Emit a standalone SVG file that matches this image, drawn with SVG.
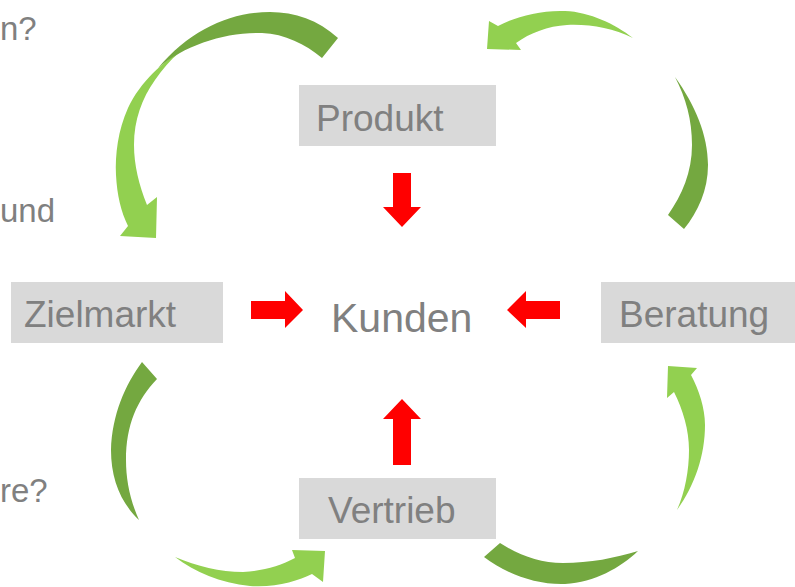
<svg xmlns="http://www.w3.org/2000/svg" width="795" height="587" viewBox="0 0 795 587">
<style>
.box{fill:#D9D9D9}
.lbl{font-family:"Liberation Sans",Arial,sans-serif;font-size:37px;fill:#808080}
.side{font-family:"Liberation Sans",Arial,sans-serif;font-size:33px;fill:#808080}
.red{fill:#FF0000}
.lg{fill:#92D050}
.dg{fill:#74A840}
</style>
<rect width="795" height="587" fill="#FFFFFF"/>
<g id="side-texts">
<text class="side" x="0" y="40">n?</text>
<text class="side" x="0" y="222">und</text>
<text class="side" x="0" y="502">re?</text>
</g>
<g id="connectors">
<path class="lg" d="M180,52 C165,60 140,82 128,108 C118,130 115,155 116,175 C117,195 121,212 128,226 L120,236 L156,238 L157,197 L147,205 C139,185 134,165 134,145 C134,120 142,98 155,80 C162,70 170,60 180,52 Z"/>
<path class="dg" d="M338,38 C318,20 295,12 270,12 C230,12 190,30 158,68 C185,45 225,32 262,33 C285,34 305,44 322,58 Z"/>
<path class="lg" d="M633,38 C615,24 590,12 565,11 C540,10 515,17 498,26 L489,21 L487,49 L521,50 L516,43 C530,33 548,26 567,25 C590,24 612,28 633,38 Z"/>
<path class="dg" d="M675,77 C695,105 708,135 708,165 C708,190 698,212 684,229 L668,215 C682,195 692,172 692,145 C692,120 686,98 675,77 Z"/>
<path class="lg" d="M677,510 C695,485 705,455 705,425 C705,408 699,390 691,375 L697,368 L668,366 L667,398 L674,392 C683,410 689,430 689,450 C689,470 685,492 677,510 Z"/>
<path class="dg" d="M638,551 C620,568 595,582 565,584 C535,585 505,573 484,557 L500,543 C520,556 540,563 563,563 C590,563 615,558 638,551 Z"/>
<path class="lg" d="M175,557 C195,572 220,583 250,586 C275,588 298,581 312,574 L323,582 L325,551 L292,550 L295,558 C280,566 262,571 243,572 C220,572 197,566 175,557 Z"/>
<path class="dg" d="M142,362 C125,385 112,415 111,450 C111,478 120,502 139,520 C130,500 126,480 126,460 C126,425 137,400 157,379 Z"/>
<polygon class="red" points="393,173 411,173 411,207 421,207 402,227 383,207 393,207"/>
<polygon class="red" points="402,399 421,419 411,419 411,465 393,465 393,419 383,419"/>
<polygon class="red" points="251,301 285,301 285,291 303,310 285,328 285,319 251,319"/>
<polygon class="red" points="560,301 526,301 526,291 507,310 526,328 526,319 560,319"/>
</g>
<g id="produkt">
<rect class="box" x="299" y="85" width="197" height="61"/>
<text class="lbl" x="316" y="131">Produkt</text>
</g>
<g id="zielmarkt">
<rect class="box" x="11" y="282" width="212" height="61"/>
<text class="lbl" x="24" y="327">Zielmarkt</text>
</g>
<g id="beratung">
<rect class="box" x="601" y="282" width="194" height="61"/>
<text class="lbl" x="619" y="327">Beratung</text>
</g>
<g id="vertrieb">
<rect class="box" x="299" y="478" width="197" height="61"/>
<text class="lbl" x="328" y="523">Vertrieb</text>
</g>
<g id="kunden">
<text class="lbl" x="331" y="332" style="font-size:41px">Kunden</text>
</g>
</svg>
